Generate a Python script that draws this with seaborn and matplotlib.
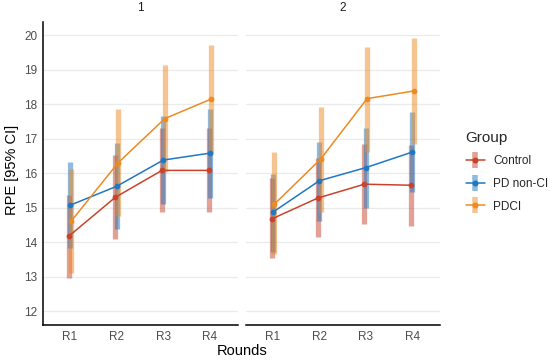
import numpy as np
import pandas as pd
import matplotlib
matplotlib.use("Agg")
import matplotlib.pyplot as plt
import seaborn as sns
from matplotlib.lines import Line2D
from matplotlib.legend_handler import HandlerTuple

rounds = ["R1", "R2", "R3", "R4"]
groups = ["Control", "PD non-CI", "PDCI"]
panels = ["1", "2"]

# panel 1 means and 95% CI
p1_mean = {"Control": [14.17, 15.30, 16.08, 16.08],
           "PD non-CI": [15.07, 15.62, 16.38, 16.58],
           "PDCI": [14.62, 16.30, 17.58, 18.15]}
p1_lo = {"Control": [12.95, 14.10, 14.87, 14.87],
         "PD non-CI": [13.82, 14.37, 15.12, 15.29],
         "PDCI": [13.12, 14.75, 16.02, 16.59]}
p1_hi = {"Control": [15.38, 16.54, 17.30, 17.30],
         "PD non-CI": [16.33, 16.86, 17.65, 17.87],
         "PDCI": [16.12, 17.85, 19.12, 19.71]}

# panel 2 means and 95% CI
p2_mean = {"Control": [14.67, 15.28, 15.68, 15.65],
           "PD non-CI": [14.87, 15.78, 16.16, 16.61],
           "PDCI": [15.10, 16.41, 18.16, 18.38]}
p2_lo = {"Control": [13.53, 14.15, 14.52, 14.48],
         "PD non-CI": [13.72, 14.62, 14.99, 15.46],
         "PDCI": [13.65, 14.86, 16.62, 16.84]}
p2_hi = {"Control": [15.85, 16.45, 16.84, 16.81],
         "PD non-CI": [15.99, 16.90, 17.32, 17.76],
         "PDCI": [16.60, 17.92, 19.66, 19.92]}

colors = {"Control": "#C9432C", "PD non-CI": "#1F78C1", "PDCI": "#EE8A22"}

rows = []
for panel, mean, lo, hi in [("1", p1_mean, p1_lo, p1_hi), ("2", p2_mean, p2_lo, p2_hi)]:
    for g in groups:
        for i, r in enumerate(rounds):
            rows.append({"panel": panel, "Group": g, "Round": r,
                         "RPE": mean[g][i], "lo": lo[g][i], "hi": hi[g][i]})
df = pd.DataFrame(rows)

sns.set_style("white")
plt.rcParams["font.family"] = ["Liberation Sans", "DejaVu Sans"]

fig = plt.figure(figsize=(5.5, 3.62), dpi=100)
ax1 = fig.add_axes([43 / 550, 1 - 325 / 362, 195 / 550, 303 / 362])
ax2 = fig.add_axes([246 / 550, 1 - 325 / 362, 194 / 550, 303 / 362])

dodge = 0.06
for ax, panel in [(ax1, "1"), (ax2, "2")]:
    sub = df[df.panel == panel]
    ax.set_axisbelow(True)
    ax.grid(axis="y", color="#EBEBEB", lw=0.9)
    # CI bars
    for k, g in enumerate(groups):
        s = sub[sub.Group == g]
        off = -dodge / 2 + dodge / 2 * k
        xs = np.arange(len(rounds)) + off
        ax.vlines(xs, s["lo"], s["hi"], color=colors[g], alpha=0.5, lw=3.8, zorder=2)
    sns.pointplot(data=sub, x="Round", y="RPE", hue="Group", order=rounds,
                  hue_order=groups, palette=colors, dodge=dodge, errorbar=None,
                  markers="o", markersize=3.3, linewidth=1.1, ax=ax, legend=False)
    for coll in ax.lines:
        coll.set_zorder(3)
    ax.set_xlim(-0.58, 3.6)
    ax.set_ylim(11.6, 20.38)
    ax.set_yticks(range(12, 21))
    ax.set_xlabel("")
    ax.set_ylabel("")
    ax.set_title(panel, fontsize=8.5, color="#1A1A1A", pad=8)
    ax.tick_params(axis="both", length=0, labelsize=8.5, labelcolor="#4D4D4D", pad=4)
    for side in ["top", "right"]:
        ax.spines[side].set_visible(False)
    ax.spines["bottom"].set_color("black")
    ax.spines["bottom"].set_linewidth(1.1)
    ax.spines["left"].set_color("black")
    ax.spines["left"].set_linewidth(1.1)

ax2.spines["left"].set_visible(False)
ax2.tick_params(axis="y", labelleft=False)

fig.text(12 / 550, 1 - 170 / 362, "RPE [95% CI]", rotation=90, ha="center",
         va="center", fontsize=10.5, color="black")
fig.text(242 / 550, 1 - 351 / 362, "Rounds", ha="center", va="center",
         fontsize=10.5, color="black")

handles = []
for g in groups:
    bar = Line2D([], [], color=colors[g], alpha=0.5, marker="|", markersize=12,
                 markeredgewidth=4, linestyle="none")
    pt = Line2D([], [], color=colors[g], marker="o", markersize=3.3, lw=1.1)
    handles.append((bar, pt))
leg = fig.legend(handles, groups, handler_map={tuple: HandlerTuple(ndivide=1)},
                 loc="upper left", bbox_to_anchor=(461 / 550, 1 - 126 / 362),
                 frameon=False, title="Group", fontsize=8.5, title_fontsize=11,
                 handlelength=1.6, labelspacing=0.9, handletextpad=0.7,
                 numpoints=1, borderaxespad=0)
leg._legend_box.align = "left"

fig.savefig("out.png", dpi=100)
